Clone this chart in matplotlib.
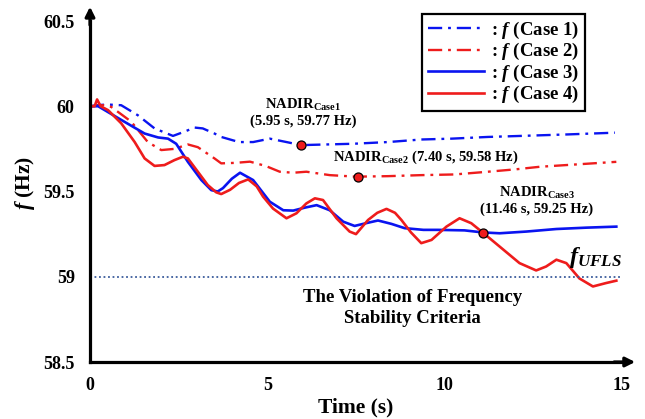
import matplotlib
matplotlib.use("Agg")
import matplotlib.pyplot as plt

# frequency traces (time in s, f in Hz)
case1_t = [0, 0.23, 0.5, 0.88, 1.35, 1.82, 2.34, 2.65, 2.95, 3.18, 3.51, 3.7, 4.2, 4.6, 5.07, 5.54,
           5.95, 6.5, 7.42, 8.4, 9.34, 10.2, 11.22, 12.0, 13.5, 14.8]
case1_f = [60.0, 60.007, 60.01, 60.006, 59.947, 59.87, 59.826, 59.85, 59.875, 59.87, 59.84, 59.82, 59.79, 59.79, 59.81, 59.79,
           59.772, 59.775, 59.78, 59.79, 59.805, 59.81, 59.82, 59.825, 59.835, 59.845]

case2_t = [0, 0.37, 0.6, 1.16, 1.63, 2.01, 2.38, 2.76, 3.04, 3.51, 3.7, 4.1, 4.51, 4.95, 5.35, 5.73, 6.1, 6.76,
           7.5, 8.4, 9.34, 10.28, 11.22, 12.0, 12.68, 13.8, 14.84]
case2_f = [60.0, 60.006, 59.996, 59.91, 59.79, 59.743, 59.75, 59.776, 59.76, 59.694, 59.665, 59.668, 59.675, 59.65, 59.616, 59.61, 59.616, 59.596,
           59.587, 59.59, 59.596, 59.6, 59.616, 59.63, 59.645, 59.66, 59.674]

case3_t = [0, 0.23, 0.88, 1.54, 1.92, 2.2, 2.43, 2.76, 3.14, 3.42, 3.6, 3.75, 4.0, 4.23, 4.6, 5.07, 5.45, 5.73,
           6.05, 6.39, 6.76, 7.14, 7.46, 7.8, 8.12, 8.5, 8.87, 9.4, 9.81, 10.56, 11.07, 11.55, 12.3, 13.15, 14.0, 14.84]
case3_f = [60.0, 60.0, 59.92, 59.84, 59.817, 59.81, 59.78, 59.674, 59.567, 59.508, 59.5, 59.52, 59.575, 59.61, 59.567, 59.44, 59.39, 59.388,
           59.405, 59.42, 59.39, 59.323, 59.298, 59.315, 59.33, 59.31, 59.285, 59.275, 59.275, 59.272, 59.26, 59.255, 59.265, 59.28, 59.288, 59.294]

case4_t = [0, 0.13, 0.2, 0.3, 0.51, 0.88, 1.26, 1.54, 1.82, 2.1, 2.38, 2.62, 2.76, 3.04, 3.32, 3.56, 3.7, 3.95,
           4.2, 4.46, 4.7, 4.88, 5.16, 5.54, 5.82, 6.1, 6.34, 6.57, 6.95, 7.32, 7.5, 7.84, 8.1, 8.36, 8.6, 8.78,
           9.05, 9.34, 9.63, 10.05, 10.42, 10.75, 11.07, 11.55, 12.11, 12.58, 12.86, 13.15, 13.43, 13.8, 14.18, 14.55, 14.84]
case4_f = [60.0, 60.0, 60.04, 60.0, 59.977, 59.9, 59.79, 59.694, 59.65, 59.655, 59.684, 59.704, 59.694, 59.616, 59.538, 59.495, 59.485, 59.51,
           59.55, 59.571, 59.53, 59.47, 59.40, 59.343, 59.372, 59.43, 59.46, 59.45, 59.343, 59.265, 59.25, 59.333, 59.375, 59.398, 59.375, 59.333,
           59.26, 59.197, 59.216, 59.294, 59.343, 59.314, 59.26, 59.177, 59.08, 59.037, 59.06, 59.10, 59.08, 58.99, 58.943, 58.963, 58.977]

# nadir markers as drawn, and their labels
nadir_t = [5.95, 7.55, 11.07]
nadir_f = [59.772, 59.587, 59.258]
f_ufls = 59.0

xticks = [0, 5, 10, 15]
yticks = [58.5, 59, 59.5, 60, 60.5]
ytick_labels = ["58.5", "59", "59.5", "60", "60.5"]

plt.rcParams["font.family"] = "Liberation Serif"
plt.rcParams["mathtext.fontset"] = "custom"
plt.rcParams["mathtext.rm"] = "Liberation Serif:bold"
plt.rcParams["mathtext.bf"] = "Liberation Serif:bold"
plt.rcParams["mathtext.it"] = "Liberation Serif:italic:bold"
plt.rcParams["mathtext.bfit"] = "Liberation Serif:italic:bold"

blue = "#0a14f0"
red = "#ee1c1c"
dashdot = (0, (6, 2.5, 1.2, 2.5))

fig = plt.figure(figsize=(6.45, 4.19), dpi=100)
ax = fig.add_axes([90 / 645, 57 / 419, 532 / 645, 341 / 419])

ax.plot(case1_t, case1_f, color=blue, lw=1.7, ls=dashdot, label=r": $\mathbfit{f}$ (Case 1)")
ax.plot(case2_t, case2_f, color=red, lw=1.7, ls=dashdot, label=r": $\mathbfit{f}$ (Case 2)")
ax.plot(case3_t, case3_f, color=blue, lw=1.9, label=r": $\mathbfit{f}$ (Case 3)", solid_joinstyle="round")
ax.plot(case4_t, case4_f, color=red, lw=1.9, label=r": $\mathbfit{f}$ (Case 4)", solid_joinstyle="round")
ax.axhline(f_ufls, xmin=0, xmax=1, color="#3b5c9c", lw=1.3, ls=(0, (1, 1.5)))

ax.plot(nadir_t, nadir_f, "o", ms=6.5, mfc=red, mec="black", mew=0.9, zorder=5)

ax.set_xlim(0, 15)
ax.set_ylim(58.5, 60.5)
ax.set_xticks(xticks)
ax.set_yticks(yticks)
ax.set_yticklabels(ytick_labels)
ax.tick_params(length=0, labelsize=13, pad=11)
for lab in ax.get_xticklabels() + ax.get_yticklabels():
    lab.set_fontweight("bold")

for s in ["top", "right"]:
    ax.spines[s].set_visible(False)
ax.spines["left"].set_linewidth(2.3)
ax.spines["bottom"].set_linewidth(2.3)
# arrow heads on both axes
ax.annotate("", xy=(0, 1.05), xytext=(0, 0.98), xycoords="axes fraction",
            arrowprops=dict(arrowstyle="-|>", color="black", lw=2.3, mutation_scale=14), annotation_clip=False)
ax.annotate("", xy=(1.03, 0), xytext=(0.98, 0), xycoords="axes fraction",
            arrowprops=dict(arrowstyle="-|>", color="black", lw=2.3, mutation_scale=14), annotation_clip=False)

ax.set_xlabel("Time (s)", fontsize=15.5, fontweight="bold", labelpad=2)
ax.set_ylabel(r"$\mathbfit{f}$ (Hz)", fontsize=15.5, fontweight="bold")
ax.yaxis.set_label_coords(-0.10, 0.525)

ax.text(6.0, 59.965, "NADIR$_{\\mathbf{Case1}}$\n(5.95 s, 59.77 Hz)", ha="center", va="center",
        fontsize=10.5, fontweight="bold", linespacing=1.15)
ax.text(6.85, 59.70, "NADIR$_{\\mathbf{Case2}}$ (7.40 s, 59.58 Hz)", ha="left", va="center",
        fontsize=10.5, fontweight="bold")
ax.text(12.6, 59.45, "NADIR$_{\\mathbf{Case3}}$\n(11.46 s, 59.25 Hz)", ha="center", va="center",
        fontsize=10.5, fontweight="bold", linespacing=1.15)
ax.text(15.0, 59.11, r"$\mathbfit{f}_{\mathbfit{UFLS}}$", ha="right", va="center", fontsize=17.5)
ax.text(9.1, 58.815, "The Violation of Frequency\nStability Criteria", ha="center", va="center",
        fontsize=13.5, fontweight="bold", linespacing=1.3)

leg = ax.legend(loc="upper right", bbox_to_anchor=(585 / 645, 1 - 14 / 419), bbox_transform=fig.transFigure,
                borderaxespad=0, fancybox=False, edgecolor="black", framealpha=1, fontsize=13.5,
                handlelength=3.0, labelspacing=0.02, handletextpad=0.4, borderpad=0.3)
leg.get_frame().set_linewidth(1.6)
for t in leg.get_texts():
    t.set_fontweight("bold")

fig.savefig("out.png", dpi=100)
